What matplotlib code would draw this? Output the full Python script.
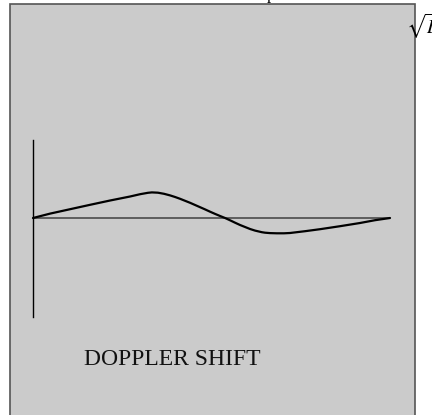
import matplotlib
matplotlib.use("Agg")
import matplotlib.pyplot as plt
from matplotlib.patches import Rectangle

# Data (time axis 0..10, shift in arbitrary units)
time = [0, 0.48, 1.04, 1.60, 2.16, 2.44, 2.72, 3.0, 3.22, 3.33, 3.50, 3.67,
        3.84, 3.98, 4.12, 4.26, 4.40, 4.54, 4.68, 4.82, 4.96, 5.10, 5.24,
        5.38, 5.52, 5.66, 5.80, 5.94, 6.08, 6.22, 6.41, 6.50, 6.64, 6.83,
        7.03, 7.20, 7.62, 8.04, 8.60, 9.16, 9.58, 10.0]
shift = [0.0, 0.44, 0.88, 1.32, 1.75, 1.95, 2.15, 2.38, 2.52, 2.56, 2.53,
         2.42, 2.26, 2.1, 1.92, 1.72, 1.52, 1.3, 1.08, 0.86, 0.63, 0.41,
         0.2, 0.0, -0.23, -0.47, -0.7, -0.9, -1.1, -1.26, -1.42, -1.47,
         -1.51, -1.53, -1.53, -1.5, -1.32, -1.12, -0.82, -0.5, -0.22, 0.0]
label = "DOPPLER SHIFT"

W, H = 432, 415
plt.rcParams["mathtext.fontset"] = "stix"
fig = plt.figure(figsize=(W / 100, H / 100), dpi=100)
fig.patch.set_facecolor("white")

# Gray panel with border
fig.patches.append(Rectangle((10 / W, -0.05), (415 - 10) / W, 1.05 - 4 / H,
                             transform=fig.transFigure, facecolor="#cbcbcb",
                             edgecolor="#555555", linewidth=1.2, zorder=-5))

# Axes: x 0..10 -> px 33..390 ; y 0 at px 218, 10 px per unit
left_px, right_px = 33, 390
top_px, bot_px = 140, 317
y0_px = 218
ax = fig.add_axes([left_px / W, 1 - bot_px / H, (right_px - left_px) / W,
                   (bot_px - top_px) / H])
ax.set_zorder(5)
ax.set_facecolor("none")
ax.set_xlim(0, 10)
ax.set_ylim((y0_px - bot_px) / 10, (y0_px - top_px) / 10)
for s in ["top", "right", "bottom"]:
    ax.spines[s].set_visible(False)
ax.spines["left"].set_color("black")
ax.spines["left"].set_linewidth(1.0)
ax.set_xticks([])
ax.set_yticks([])
ax.axhline(0, color="#555555", linewidth=1.3, zorder=1)
ax.plot(time, shift, color="black", linewidth=1.6, zorder=2, clip_on=False,
        solid_joinstyle="round", solid_capstyle="round")

fig.text(84 / W, 1 - 365 / H, label, fontsize=17, family="Liberation Serif",
         va="baseline", ha="left", color="#111111", zorder=6)

# Cropped annotations at the edges
fig.text(406 / W, 1 - 34 / H, r"$\sqrt{D}$", fontsize=14, va="baseline",
         ha="left", color="black", zorder=6)
fig.text(267 / W, 1 + 1 / H, "p", fontsize=12, family="Liberation Serif",
         va="baseline", ha="left", color="black", zorder=6)

fig.savefig("out.png", dpi=100)
